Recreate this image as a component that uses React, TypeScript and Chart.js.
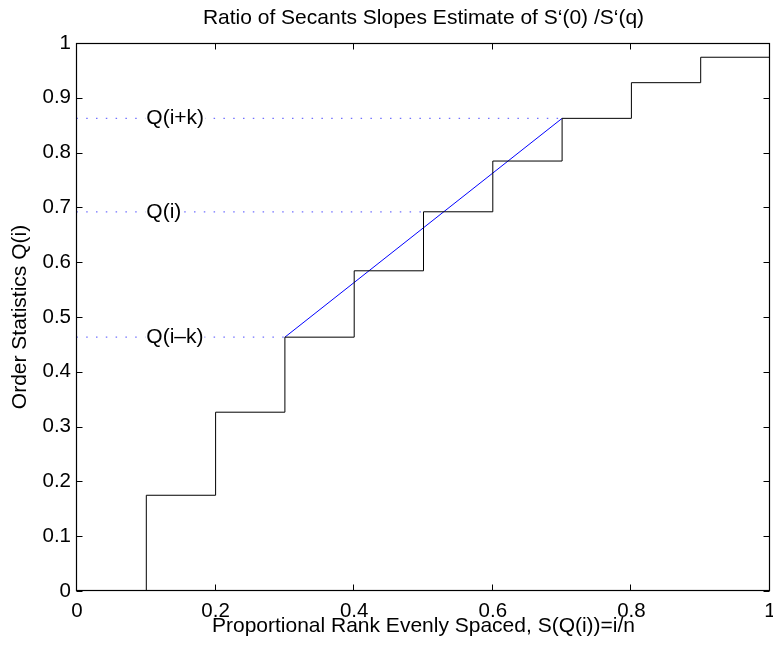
import React, { useEffect, useRef } from "react";
import { Chart, registerables } from "chart.js";

Chart.register(...registerables);

// ---- data ----
const stepEdges = [0.1, 0.2, 0.3, 0.4, 0.5, 0.6, 0.7, 0.8, 0.9, 1.0];
const orderStats = [0.1747, 0.3263, 0.4632, 0.5843, 0.692, 0.7846, 0.8625, 0.9276, 0.974];
const secantIdx = [2, 4, 6];
const secantLabels = ["Q(i\u2013k)", "Q(i)", "Q(i+k)"];
const labelX = 0.1;
const xTicks = [0, 0.2, 0.4, 0.6, 0.8, 1];
const yTicks = [0, 0.1, 0.2, 0.3, 0.4, 0.5, 0.6, 0.7, 0.8, 0.9, 1];
const titleText = "Ratio of Secants Slopes Estimate of S\u2018(0) /S\u2018(q)";
const xTitle = "Proportional Rank Evenly Spaced, S(Q(i))=i/n";
const yTitle = "Order Statistics Q(i)";

const FAMILY = "'Liberation Sans', Arial, Helvetica, sans-serif";
const TEXT_FONT = { family: FAMILY, size: 21, weight: "normal" as const };
const TICK_FONT = { family: FAMILY, size: 20.5, weight: "normal" as const };

const fmt = (v: number) => (v === 0 ? "0" : v === 1 ? "1" : v.toFixed(1));

function buildSteps() {
  const pts: { x: number; y: number }[] = [{ x: stepEdges[0], y: 0 }];
  for (let i = 0; i < orderStats.length; i++) {
    pts.push({ x: stepEdges[i], y: orderStats[i] });
    pts.push({ x: stepEdges[i + 1], y: orderStats[i] });
  }
  return pts;
}

const matlabBox = {
  id: "matlabBox",
  afterDatasetsDraw(chart: any) {
    const { ctx, chartArea, scales } = chart;
    const x = scales.x;
    const y = scales.y;
    const { left, right, top, bottom } = chartArea;
    ctx.save();
    // annotation labels
    ctx.font = `21px ${FAMILY}`;
    ctx.textBaseline = "middle";
    ctx.textAlign = "left";
    secantIdx.forEach((idx, k) => {
      const px = x.getPixelForValue(labelX);
      const py = y.getPixelForValue(orderStats[idx]);
      const w = ctx.measureText(secantLabels[k]).width;
      ctx.fillStyle = "#fff";
      ctx.fillRect(px - 1, py - 3, w + 2, 6);
      ctx.fillStyle = "#000";
      ctx.fillText(secantLabels[k], px, py);
    });
    // box
    ctx.strokeStyle = "#000";
    ctx.lineWidth = 1.2;
    const L = Math.round(left) - 0.5;
    const R = Math.round(right) - 0.5;
    const T = Math.round(top) + 0.5;
    const B = Math.round(bottom) - 0.5;
    ctx.strokeRect(L, T, R - L, B - T);
    // inward ticks on all four sides
    const tl = 6;
    ctx.lineWidth = 1;
    ctx.beginPath();
    xTicks.forEach((v) => {
      const px = Math.round(x.getPixelForValue(v)) - 0.5;
      ctx.moveTo(px, B);
      ctx.lineTo(px, B - tl);
      ctx.moveTo(px, T);
      ctx.lineTo(px, T + tl);
    });
    yTicks.forEach((v) => {
      const py = Math.round(y.getPixelForValue(v)) + 0.5;
      ctx.moveTo(L, py);
      ctx.lineTo(L + tl, py);
      ctx.moveTo(R, py);
      ctx.lineTo(R - tl, py);
    });
    ctx.stroke();
    ctx.restore();
  },
};

export default function App() {
  const ref = useRef<HTMLCanvasElement | null>(null);

  useEffect(() => {
    if (!ref.current) return;
    const dotted = secantIdx.map((idx) => ({
      data: [
        { x: 0, y: orderStats[idx] },
        { x: stepEdges[idx], y: orderStats[idx] },
      ],
      borderColor: "#7070ff",
      borderWidth: 1.2,
      borderDash: [1.5, 8.3],
      borderDashOffset: 0.6,
      showLine: true,
      pointRadius: 0,
      fill: false,
    }));
    const chart = new Chart(ref.current, {
      type: "scatter",
      data: {
        datasets: [
          ...dotted,
          {
            data: buildSteps(),
            borderColor: "#000",
            borderWidth: 1,
            showLine: true,
            pointRadius: 0,
            fill: false,
          },
          {
            data: [
              { x: stepEdges[secantIdx[0]], y: orderStats[secantIdx[0]] },
              { x: stepEdges[secantIdx[2]], y: orderStats[secantIdx[2]] },
            ],
            borderColor: "#0000ff",
            borderWidth: 1,
            showLine: true,
            pointRadius: 0,
            fill: false,
          },
        ] as any,
      },
      options: {
        animation: false,
        responsive: false,
        devicePixelRatio: 1,
        layout: { padding: { left: 0, right: 3, top: 0, bottom: 0 } },
        plugins: {
          legend: { display: false },
          tooltip: { enabled: false },
          title: {
            display: true,
            text: titleText,
            fullSize: false,
            color: "#000",
            font: TEXT_FONT,
            padding: { top: 5.8, bottom: 12 },
          },
        },
        scales: {
          x: {
            type: "linear",
            position: "bottom",
            min: 0,
            max: 1,
            afterBuildTicks: (s: any) => {
              s.ticks = xTicks.map((v) => ({ value: v }));
            },
            afterFit: (s: any) => {
              s.height = 59;
              s.paddingLeft = 0;
              s.paddingRight = 0;
            },
            grid: { display: false, drawTicks: false },
            border: { display: false },
            ticks: {
              color: "#000",
              font: TICK_FONT,
              padding: 8,
              maxRotation: 0,
              autoSkip: false,
              callback: (v: any) => fmt(Number(v)),
            },
            title: {
              display: true,
              text: xTitle,
              color: "#000",
              font: TEXT_FONT,
              padding: { top: 0, bottom: 11 },
            },
          },
          y: {
            type: "linear",
            position: "left",
            min: 0,
            max: 1,
            afterBuildTicks: (s: any) => {
              s.ticks = yTicks.map((v) => ({ value: v }));
            },
            afterFit: (s: any) => {
              s.width = 77;
              s.paddingTop = 0;
              s.paddingBottom = 0;
            },
            grid: { display: false, drawTicks: false },
            border: { display: false },
            ticks: {
              color: "#000",
              font: TICK_FONT,
              padding: 6,
              autoSkip: false,
              callback: (v: any) => fmt(Number(v)),
            },
            title: {
              display: true,
              text: yTitle,
              color: "#000",
              font: TEXT_FONT,
              padding: { top: 7.5, bottom: 0 },
            },
          },
        },
      } as any,
      plugins: [matlabBox],
    });
    return () => chart.destroy();
  }, []);

  return (
    <div style={{ position: "fixed", left: 0, top: 0, width: 773, height: 650, background: "#fff" }}>
      <canvas ref={ref} width={773} height={650} style={{ width: 773, height: 650, display: "block" }} />
    </div>
  );
}
